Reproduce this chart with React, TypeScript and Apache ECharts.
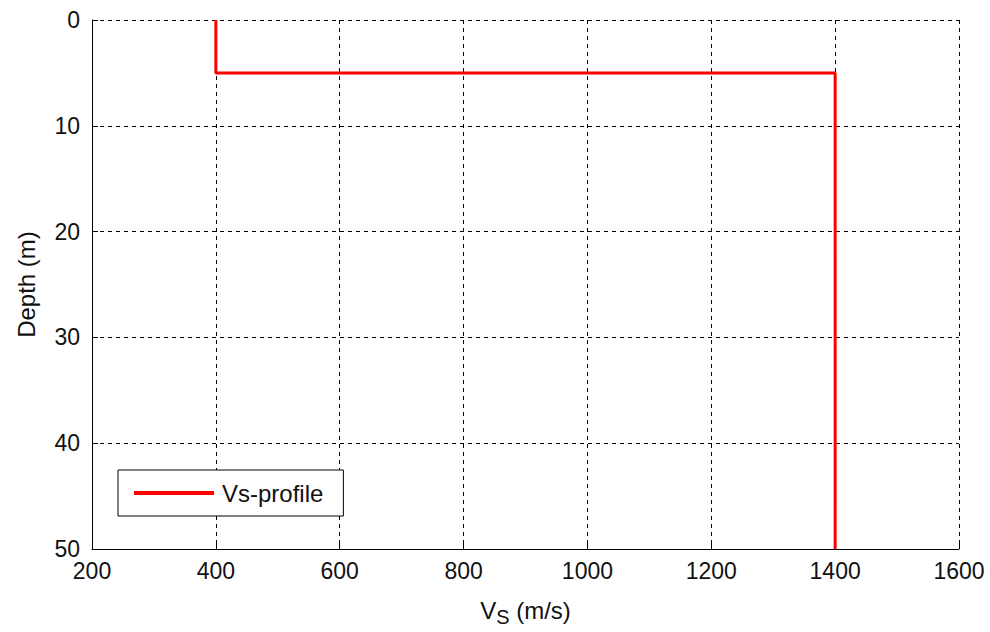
import React, { useEffect, useRef } from "react";
import * as echarts from "echarts";

const seriesName = "Vs-profile";
const velocities = [400, 400, 1400, 1400];
const depths = [0, 5, 5, 50];
const xTicks = { min: 200, max: 1600, interval: 200 };
const yTicks = { min: 0, max: 50, interval: 10 };

const FONT = "Liberation Sans, Arial, sans-serif";

export default function App() {
  const ref = useRef<HTMLDivElement>(null);
  useEffect(() => {
    if (!ref.current) return;
    const chart = echarts.init(ref.current, null, { renderer: "svg" });
    const data = velocities.map((v, i) => [v, depths[i]]);
    chart.setOption({
      animation: false,
      backgroundColor: "#ffffff",
      textStyle: { fontFamily: FONT },
      grid: { left: 92, top: 20, right: 31, bottom: 82, containLabel: false },
      legend: {
        left: 118,
        top: 470,
        orient: "horizontal",
        data: [{ name: seriesName, icon: "rect" }],
        itemWidth: 80,
        itemHeight: 4,
        itemGap: 8,
        padding: [11, 20, 11, 16],
        borderColor: "#000",
        borderWidth: 1,
        backgroundColor: "#fff",
        textStyle: { fontFamily: FONT, fontSize: 24, color: "#111", padding: [0, 0, 0, 3] },
        selectedMode: false,
      },
      xAxis: {
        type: "value",
        min: xTicks.min,
        max: xTicks.max,
        interval: xTicks.interval,
        name: "V{sub|S} (m/s)",
        nameLocation: "middle",
        nameGap: 44,
        nameTextStyle: {
          fontFamily: FONT,
          fontSize: 24,
          color: "#111",
          rich: {
            sub: { fontFamily: FONT, fontSize: 20, color: "#111", verticalAlign: "bottom", padding: [14, 0, 0, 0] },
          },
        },
        axisLine: { show: true, onZero: false, lineStyle: { color: "#000", width: 1 } },
        axisTick: { show: true, inside: true, length: 6, lineStyle: { color: "#000" } },
        axisLabel: { fontFamily: FONT, fontSize: 23, color: "#111", margin: 10, formatter: (v: number) => String(v) },
        splitLine: { show: true, lineStyle: { color: "#000", type: [4, 4], width: 1 } },
      },
      yAxis: {
        type: "value",
        inverse: true,
        min: yTicks.min,
        max: yTicks.max,
        interval: yTicks.interval,
        name: "Depth (m)",
        nameLocation: "middle",
        nameRotate: 90,
        nameGap: 54,
        nameTextStyle: { fontFamily: FONT, fontSize: 24, color: "#111" },
        axisLine: { show: true, onZero: false, lineStyle: { color: "#000", width: 1 } },
        axisTick: { show: true, inside: true, length: 6, lineStyle: { color: "#000" } },
        axisLabel: { fontFamily: FONT, fontSize: 23, color: "#111", margin: 12, formatter: (v: number) => String(v) },
        splitLine: { show: true, lineStyle: { color: "#000", type: [4, 4], width: 1 } },
      },
      series: [
        {
          name: seriesName,
          type: "line",
          data,
          showSymbol: false,
          symbol: "none",
          color: "#ff0000",
          lineStyle: { color: "#ff0000", width: 3 },
        },
      ],
    });
    return () => chart.dispose();
  }, []);
  return <div ref={ref} style={{ width: 990, height: 632, position: "absolute", left: 0, top: 0 }} />;
}
